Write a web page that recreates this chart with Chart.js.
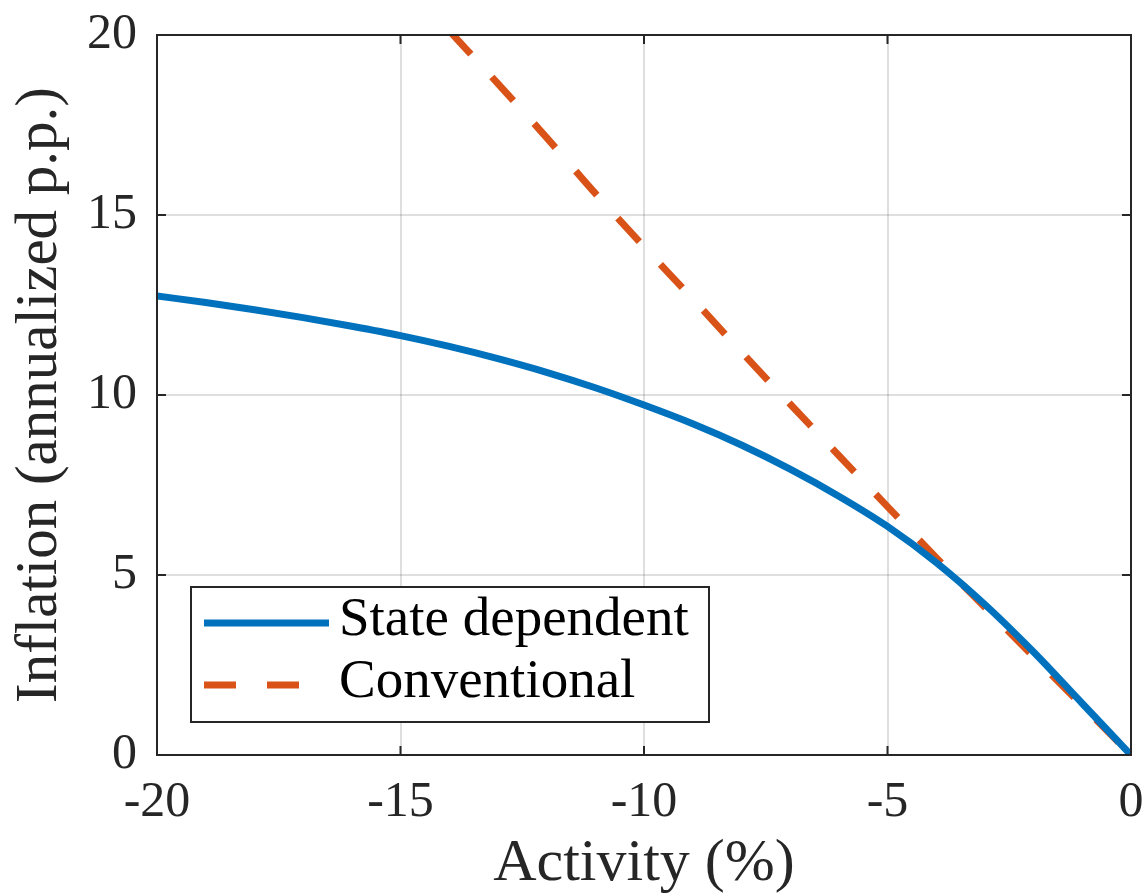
<!DOCTYPE html>
<html>
<head>
<meta charset="utf-8">
<script src="https://cdn.jsdelivr.net/npm/chart.js@4/dist/chart.umd.min.js"></script>
<style>
  html, body { margin: 0; padding: 0; background: #fff; }
  #wrap { width: 1144px; height: 896px; }
</style>
</head>
<body>
<div id="wrap"><canvas id="myChart" width="1144" height="896"></canvas></div>
<script>
// Data
const activity = [-20, -19, -18, -17, -16, -15, -14, -13, -12, -11, -10, -9, -8, -7, -6, -5, -4, -3, -2, -1, 0];
const stateDependent = [12.75, 12.57, 12.37, 12.15, 11.91, 11.65, 11.35, 11.01, 10.63, 10.2, 9.72, 9.2, 8.61, 7.94, 7.19, 6.35, 5.35, 4.18, 2.86, 1.43, 0];
const conventionalActivity = [-14, -13, -12, -11, -10, -9, -8, -7, -6, -5, -4, -3, -2, -1, 0];
const conventional = [20.12, 18.65, 17.15, 15.6, 14.12, 12.67, 11.2, 9.75, 8.32, 6.9, 5.48, 4.1, 2.73, 1.37, 0];
const xTicks = [-20, -15, -10, -5, 0];
const yTicks = [0, 5, 10, 15, 20];
const seriesNames = ["State dependent", "Conventional"];

const axisColor = "#262626";
const fontFamily = "'Liberation Serif', 'DejaVu Serif', serif";

function toPoints(xs, ys) {
  return xs.map((x, i) => ({ x: x, y: ys[i] }));
}

// Box around the plot and inward ticks, like MATLAB
const boxPlugin = {
  id: "box",
  afterDatasetsDraw(chart) {
    const { ctx, chartArea: a, scales } = chart;
    ctx.save();
    ctx.strokeStyle = axisColor;
    ctx.lineWidth = 2;
    ctx.strokeRect(a.left, a.top, a.right - a.left, a.bottom - a.top);
    const len = 9;
    ctx.beginPath();
    xTicks.forEach((v) => {
      const px = scales.x.getPixelForValue(v);
      ctx.moveTo(px, a.bottom);
      ctx.lineTo(px, a.bottom - len);
      ctx.moveTo(px, a.top);
      ctx.lineTo(px, a.top + len);
    });
    yTicks.forEach((v) => {
      const py = scales.y.getPixelForValue(v);
      ctx.moveTo(a.left, py);
      ctx.lineTo(a.left + len, py);
      ctx.moveTo(a.right, py);
      ctx.lineTo(a.right - len, py);
    });
    ctx.stroke();
    ctx.restore();
  },
};

// Legend box inside the plot, lower left
const legendPlugin = {
  id: "boxLegend",
  afterDraw(chart) {
    const { ctx, chartArea: a } = chart;
    const x0 = a.left + 34, y0 = a.bottom - 168;
    const w = 518, h = 135;
    ctx.save();
    ctx.fillStyle = "#fff";
    ctx.fillRect(x0, y0, w, h);
    ctx.strokeStyle = axisColor;
    ctx.lineWidth = 2;
    ctx.strokeRect(x0, y0, w, h);
    chart.data.datasets.forEach((ds, i) => {
      const ly = y0 + 36 + i * 62;
      ctx.beginPath();
      ctx.strokeStyle = ds.borderColor;
      ctx.lineWidth = ds.borderWidth;
      ctx.setLineDash(ds.borderDash || []);
      ctx.moveTo(x0 + 13, ly);
      ctx.lineTo(x0 + 138, ly);
      ctx.stroke();
      ctx.setLineDash([]);
      ctx.fillStyle = "#000";
      ctx.font = "55px " + fontFamily;
      ctx.textBaseline = "alphabetic";
      ctx.fillText(ds.label, x0 + 148, ly + 12);
    });
    ctx.restore();
  },
};

const ctx = document.querySelector("#myChart").getContext("2d");
const myChart = new Chart(ctx, {
  type: "line",
  data: {
    datasets: [
      {
        label: seriesNames[0],
        data: toPoints(activity, stateDependent),
        borderColor: "#0072BD",
        borderWidth: 7,
        pointRadius: 0,
        cubicInterpolationMode: "monotone",
        fill: false,
      },
      {
        label: seriesNames[1],
        data: toPoints(conventionalActivity, conventional),
        borderColor: "#D95319",
        borderWidth: 7,
        borderDash: [32, 31],
        borderCapStyle: "butt",
        pointRadius: 0,
        cubicInterpolationMode: "monotone",
        fill: false,
      },
    ],
  },
  options: {
    responsive: false,
    animation: false,
    events: [],
    layout: { padding: { top: 35, right: 13, left: 0, bottom: 0 } },
    scales: {
      x: {
        type: "linear",
        min: -20,
        max: 0,
        afterBuildTicks: (scale) => {
          scale.ticks = xTicks.map((v) => ({ value: v }));
        },
        afterFit: (scale) => {
          scale.height = 141;
          scale.paddingLeft = 0;
          scale.paddingRight = 0;
        },
        grid: {
          color: "rgba(38,38,38,0.15)",
          lineWidth: 2,
          drawTicks: false,
        },
        border: { display: false },
        ticks: {
          color: axisColor,
          padding: 18,
          font: { family: fontFamily, size: 50 },
          callback: (v) => String(v),
        },
        title: {
          display: true,
          text: "Activity (%)",
          color: axisColor,
          font: { family: fontFamily, size: 60, lineHeight: 1 },
          padding: { top: 0, bottom: 2 },
        },
      },
      y: {
        type: "linear",
        min: 0,
        max: 20,
        afterBuildTicks: (scale) => {
          scale.ticks = yTicks.map((v) => ({ value: v }));
        },
        afterFit: (scale) => {
          scale.width = 157;
          scale.paddingTop = 0;
          scale.paddingBottom = 0;
        },
        grid: {
          color: "rgba(38,38,38,0.15)",
          lineWidth: 2,
          drawTicks: false,
        },
        border: { display: false },
        ticks: {
          color: axisColor,
          padding: 20,
          font: { family: fontFamily, size: 50 },
        },
        title: {
          display: true,
          text: "Inflation (annualized p.p.)",
          color: axisColor,
          font: { family: fontFamily, size: 59, lineHeight: 1 },
          padding: { top: 11, bottom: 0 },
        },
      },
    },
    plugins: {
      legend: { display: false },
      tooltip: { enabled: false },
    },
  },
  plugins: [boxPlugin, legendPlugin],
});
</script>
</body>
</html>
